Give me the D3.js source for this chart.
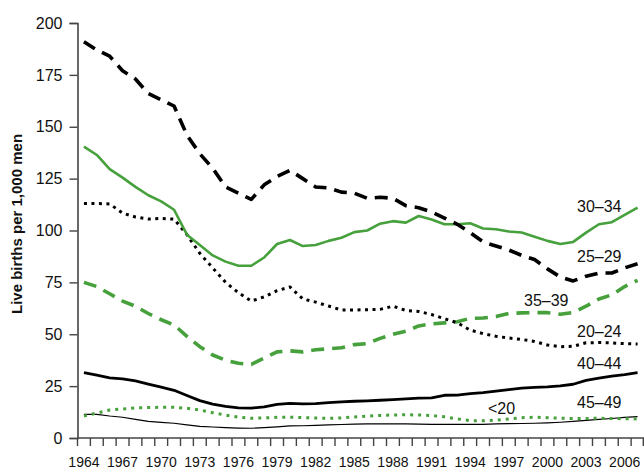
<!DOCTYPE html>
<html>
<head>
<meta charset="utf-8">
<script src="https://cdn.jsdelivr.net/npm/d3@7"></script>
<style>
  html, body { margin: 0; padding: 0; background: #fff; }
  svg { display: block; }
  text { font-family: "Liberation Sans", Arial, sans-serif; fill: #111; }
</style>
</head>
<body>
<svg id="chart" width="644" height="468"></svg>
<script>
const years = d3.range(1964, 2008);
const tickYears = d3.range(1964, 2007, 3);
const yTicks = [0, 25, 50, 75, 100, 125, 150, 175, 200];

const age25_29 = [191,187,184,177,173,166,163,160,146,137,130,121,118,115,122,126,129,125,121,120.5,118.5,118,115.5,116,115.5,112,111,109,106,103,99,94.5,92.5,90.6,88,86,81.5,77.6,75.7,78,79.5,79.5,82,84];
const age30_34 = [140.4,136.4,129.6,125.5,121,117,114,110,98,93,88,85,83,83,87,93.5,95.4,92.5,93,95,96.5,99.2,100,103.3,104.5,103.8,107,105.3,103,103,103.5,101,100.6,99.5,99,97,95,93.5,94.5,99,103,104,107.5,111];
const age20_24 = [113,113,112.8,108.4,106.5,105.5,105.8,105.5,98,89,82,75,70,66,68,71,72.8,67,65.5,63.6,61.7,61.7,61.8,62,63.5,61.5,61,59.5,57.5,55.5,52,50.3,49,48.2,47.5,46.5,44.8,44,44.2,45.9,46,45.8,45.5,45.3];
const age35_39 = [75,73,69.5,66,63.5,60,57,54.5,49,44,40,37.5,36,35.5,38.5,41.5,42,41.5,42.5,43,43.5,45,45.5,48,50,51.5,54,55,55.5,56,57.7,57.8,58.5,60,60.3,60.4,60.4,59.6,60.5,63.5,67,69,73,76];
const age40_44 = [31.5,30.3,29,28.5,27.5,26,24.5,23,20.5,18,16.3,15.2,14.5,14.4,15,16.2,16.7,16.4,16.6,17,17.4,17.7,17.9,18.2,18.5,18.9,19.2,19.3,20.6,20.7,21.4,21.9,22.6,23.3,24,24.4,24.6,25.1,25.9,27.8,28.8,29.8,30.5,31.5];
const age45_49 = [11.4,11.4,10.6,10,9,8,7.5,7.1,6.3,5.6,5.3,5,4.8,4.7,5,5.4,5.8,5.9,6.1,6.3,6.5,6.7,6.8,6.8,6.8,6.8,6.7,6.6,6.6,6.6,6.6,6.6,6.8,6.9,7,7.1,7.3,7.6,8,8.5,9,9.4,9.9,10.3];
const ageUnder20 = [10.6,12,13.5,14,14.5,14.7,14.8,14.8,14.3,13.5,12.2,11,10,9.5,9.7,10,10,9.8,9.6,9.5,9.7,10.1,10.5,10.9,11.1,11.2,11.1,10.8,10.2,9.2,8.4,8.3,8.6,9.2,9.8,10,9.8,9.5,9.4,9.4,9.5,9.4,9.3,9.2];

const seriesNames = ["<20","20–24","25–29","30–34","35–39","40–44","45–49"];
const seriesValues = [ageUnder20, age20_24, age25_29, age30_34, age35_39, age40_44, age45_49];

const GREEN = "#46a03c";
const BLACK = "#000";
const styles = {
  "<20":   {color: GREEN, width: 3,   dash: "3,5",  label: [488, 414]},
  "20–24": {color: BLACK, width: 3,   dash: "3,4.5",label: [577, 337]},
  "25–29": {color: BLACK, width: 3.6, dash: "13,8", label: [577, 262]},
  "30–34": {color: GREEN, width: 2.6, dash: null,   label: [577, 212]},
  "35–39": {color: GREEN, width: 3.6, dash: "13,8", label: [524, 306]},
  "40–44": {color: BLACK, width: 2.8, dash: null,   label: [577, 369]},
  "45–49": {color: BLACK, width: 1.2, dash: null,   label: [577, 408]}
};

const svg = d3.select("#chart");
const mLeft = 77.5, mRight = 644, mTop = 23, mBottom = 438;

const x = d3.scaleBand().domain(years).range([mLeft, mRight]).padding(0);
const y = d3.scaleLinear().domain([0, 200]).range([mBottom, mTop]);
const cx = yr => x(yr) + x.bandwidth() / 2;

const axisColor = "#444";

// Y axis
const yAxis = d3.axisLeft(y).tickValues(yTicks).tickSize(8).tickPadding(7);
const gy = svg.append("g").attr("transform", `translate(${mLeft},0)`).call(yAxis);
gy.select(".domain").attr("stroke", axisColor).attr("stroke-width", 1.6);
gy.selectAll(".tick line").attr("stroke", axisColor).attr("stroke-width", 1.4);
gy.selectAll(".tick text").attr("font-size", 16).attr("font-family", "Liberation Sans, Arial, sans-serif").attr("fill", "#111");

// X axis (line + year boundary ticks)
svg.append("line")
  .attr("x1", mLeft).attr("x2", mRight)
  .attr("y1", mBottom).attr("y2", mBottom)
  .attr("stroke", axisColor).attr("stroke-width", 1.6);
const lastYear = years[years.length - 1];
svg.append("g").selectAll("line")
  .data(years.concat([lastYear + 1]))
  .join("line")
  .attr("x1", d => d <= lastYear ? x(d) : mRight - 0.7)
  .attr("x2", d => d <= lastYear ? x(d) : mRight - 0.7)
  .attr("y1", mBottom).attr("y2", mBottom + 8)
  .attr("stroke", axisColor).attr("stroke-width", 1.4);
svg.append("g").selectAll("text")
  .data(tickYears)
  .join("text")
  .attr("x", d => cx(d))
  .attr("y", 466.5)
  .attr("text-anchor", "middle")
  .attr("font-size", 14)
  .text(d => d);

// Y title
svg.append("text")
  .attr("transform", `translate(22,224) rotate(-90)`)
  .attr("text-anchor", "middle")
  .attr("font-size", 15)
  .attr("font-weight", "bold")
  .text("Live births per 1,000 men");

// Lines
const line = d3.line().x((d, i) => cx(years[i])).y(d => y(d)).curve(d3.curveLinear);
const order = ["45–49", "<20", "40–44", "35–39", "20–24", "30–34", "25–29"];
order.forEach(name => {
  const vals = seriesValues[seriesNames.indexOf(name)];
  const s = styles[name];
  svg.append("path")
    .datum(vals)
    .attr("d", line)
    .attr("fill", "none")
    .attr("stroke", s.color)
    .attr("stroke-width", s.width)
    .attr("stroke-dasharray", s.dash)
    .attr("stroke-linejoin", "round");
});

// Series labels
seriesNames.forEach(name => {
  const s = styles[name];
  svg.append("text")
    .attr("x", s.label[0]).attr("y", s.label[1])
    .attr("font-size", 16)
    .text(name);
});
</script>
</body>
</html>
